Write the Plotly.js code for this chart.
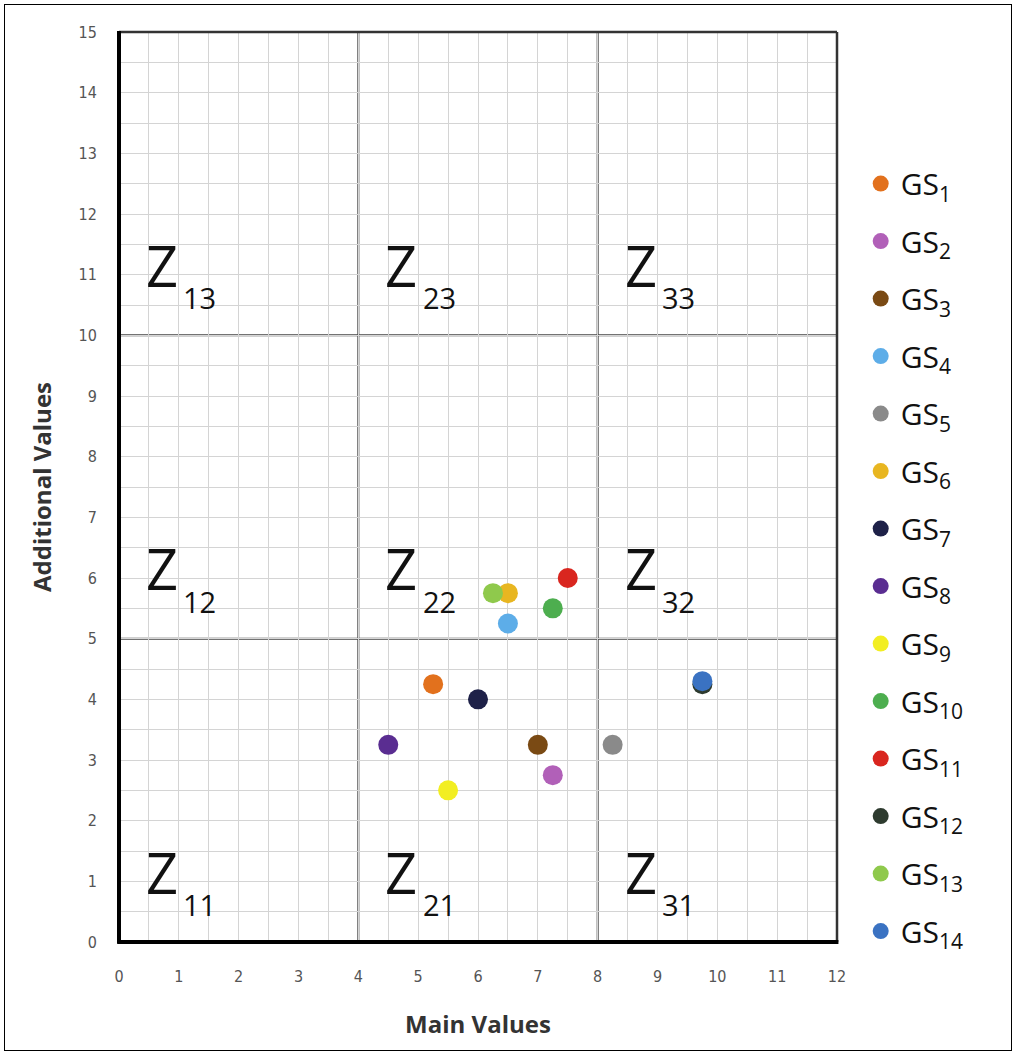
<!DOCTYPE html>
<html>
<head>
<meta charset="utf-8">
<script src="https://cdn.plot.ly/plotly-3.0.1.min.js"></script>
<style>
  html, body { margin: 0; padding: 0; background: #fff; }
  #chart { width: 1017px; height: 1056px; }
  #frame { position: absolute; left: 4px; top: 4px; width: 1006px; height: 1045px; border: 1px solid #000; pointer-events: none; }
</style>
</head>
<body>
<div id="chart"></div>
<div id="frame"></div>
<script>
// ---- data ----
const seriesNames = ["GS1","GS2","GS3","GS4","GS5","GS6","GS7","GS8","GS9","GS10","GS11","GS12","GS13","GS14"];
const seriesIndex = ["1","2","3","4","5","6","7","8","9","10","11","12","13","14"];
const mainValues = [5.25, 7.25, 7.0, 6.5, 8.25, 6.5, 6.0, 4.5, 5.5, 7.25, 7.5, 9.75, 6.25, 9.75];
const additionalValues = [4.25, 2.75, 3.25, 5.25, 3.25, 5.75, 4.0, 3.25, 2.5, 5.5, 6.0, 4.25, 5.75, 4.3];
const palette = ["#E2711D","#B160B8","#7A4A14","#5DADE8","#8A8A8A","#E8B621","#1E2148","#5A2D91","#F2EE22","#4DAE4F","#D9261F","#2E3B2F","#8FC94C","#3A72C2"];
const zoneCols = ["1","2","3"];
const zoneRows = ["1","2","3"];
const zoneStartX = [0, 4, 8];
const zoneStartY = [0, 5, 10];
const xTicks = [0,1,2,3,4,5,6,7,8,9,10,11,12];
const yTicks = [0,1,2,3,4,5,6,7,8,9,10,11,12,13,14,15];

// ---- traces ----
const traces = seriesNames.map((n, i) => ({
  type: "scatter",
  mode: "markers",
  name: "GS<sub>" + seriesIndex[i] + "</sub>",
  legendgroup: n,
  x: [mainValues[i]],
  y: [additionalValues[i]],
  marker: { color: palette[i], size: 20 },
  cliponaxis: false
}));

// ---- zone labels ----
const annotations = [];
const shapes = [];
zoneCols.forEach((c, ci) => {
  zoneRows.forEach((r, ri) => {
    annotations.push({
      xref: "x", yref: "y", x: zoneStartX[ci] + 0.72, y: zoneStartY[ri] + 1.16,
      text: "Z", showarrow: false, xanchor: "center", yanchor: "middle",
      font: { family: "Open Sans, sans-serif", size: 56, color: "#111" }
    });
    annotations.push({
      xref: "x", yref: "y", x: zoneStartX[ci] + 1.35, y: zoneStartY[ri] + 0.62,
      text: c + r, showarrow: false, xanchor: "center", yanchor: "middle",
      font: { family: "Open Sans, sans-serif", size: 29, color: "#111" }
    });
  });
});
// zone dividers
[4, 8].forEach(v => shapes.push({ type: "line", xref: "x", yref: "paper", x0: v, x1: v, y0: 0, y1: 1, line: { color: "#444", width: 2 }, layer: "below" }));
[5, 10].forEach(v => shapes.push({ type: "line", xref: "paper", yref: "y", x0: 0, x1: 1, y0: v, y1: v, line: { color: "#444", width: 2 }, layer: "below" }));
// plot frame: top/right thinner, left/bottom thick
shapes.push({ type: "line", xref: "paper", yref: "paper", x0: 0, x1: 1, y0: 1, y1: 1, line: { color: "#333", width: 2.5 } });
shapes.push({ type: "line", xref: "paper", yref: "paper", x0: 1, x1: 1, y0: 0, y1: 1, line: { color: "#333", width: 2.5 } });
shapes.push({ type: "line", xref: "paper", yref: "paper", x0: 0, x1: 0, y0: -0.002, y1: 1.001, line: { color: "#000", width: 4 } });
shapes.push({ type: "line", xref: "paper", yref: "paper", x0: -0.002, x1: 1.002, y0: 0, y1: 0, line: { color: "#000", width: 4 } });

const tickFont = { family: "Liberation Sans Narrow, DejaVu Sans Condensed, sans-serif", size: 16, color: "#555" };

const layout = {
  width: 1017, height: 1056,
  margin: { l: 119, r: 180, t: 32, b: 114 },
  paper_bgcolor: "#fff", plot_bgcolor: "#fff",
  font: { family: "Open Sans, sans-serif", color: "#444" },
  showlegend: true,
  legend: {
    x: 1.033, y: 0.862, xanchor: "left", yanchor: "top",
    font: { family: "Open Sans, sans-serif", size: 30, color: "#111" },
    tracegroupgap: 15.5, itemsizing: "trace", itemwidth: 30, bgcolor: "rgba(0,0,0,0)"
  },
  xaxis: {
    range: [0, 12], tickvals: xTicks, ticktext: xTicks.map(String),
    showgrid: true, gridcolor: "#d4d4d4", gridwidth: 1,
    minor: { dtick: 0.5, showgrid: true, gridcolor: "#d4d4d4", gridwidth: 1 },
    zeroline: false, showline: false, ticks: "outside", ticklen: 20, tickcolor: "rgba(0,0,0,0)",
    tickfont: tickFont,
    title: { text: "<b>Main Values</b>", font: { family: "Open Sans, sans-serif", size: 24, color: "#333" }, standoff: 30 },
    fixedrange: true
  },
  yaxis: {
    range: [0, 15], tickvals: yTicks, ticktext: yTicks.map(String),
    showgrid: true, gridcolor: "#d4d4d4", gridwidth: 1,
    minor: { dtick: 0.5, showgrid: true, gridcolor: "#d4d4d4", gridwidth: 1 },
    zeroline: false, showline: false, ticks: "outside", ticklen: 18, tickcolor: "rgba(0,0,0,0)",
    tickfont: tickFont,
    title: { text: "<b>Additional Values</b>", font: { family: "Open Sans, sans-serif", size: 24, color: "#333" }, standoff: 20 },
    fixedrange: true
  },
  annotations: annotations,
  shapes: shapes
};

Plotly.newPlot("chart", traces, layout, { staticPlot: true, displayModeBar: false });
</script>
</body>
</html>
